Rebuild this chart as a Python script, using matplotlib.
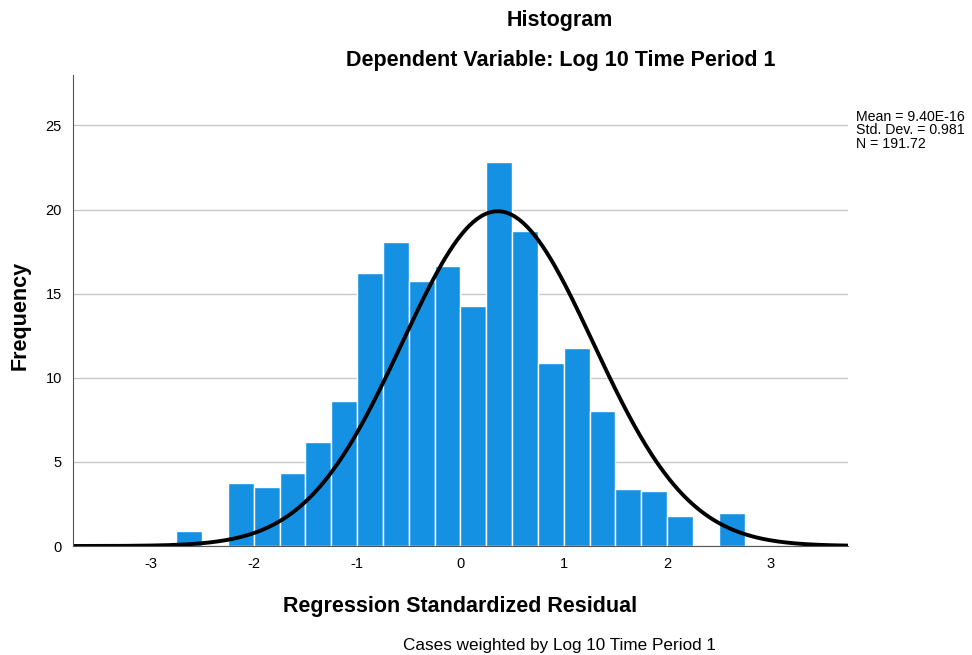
import numpy as np
import matplotlib.pyplot as plt

plt.rcParams['font.family'] = ['Liberation Sans', 'DejaVu Sans']
plt.rcParams['axes.unicode_minus'] = False

# bin left edges (width 0.25) and weighted frequencies
bin_left = [-2.75, -2.5, -2.25, -2.0, -1.75, -1.5, -1.25, -1.0, -0.75, -0.5, -0.25,
            0.0, 0.25, 0.5, 0.75, 1.0, 1.25, 1.5, 1.75, 2.0, 2.25, 2.5]
freq = [0.88, 0.0, 3.75, 3.51, 4.35, 6.2, 8.6, 16.2, 18.1, 15.75, 16.65,
        14.25, 22.8, 18.75, 10.9, 11.75, 8.0, 3.37, 3.28, 1.8, 0.0, 1.97]
bin_width = 0.25

# normal curve as drawn
curve_center = 0.36
curve_sd = 0.925
curve_peak = 19.9

fig = plt.figure(figsize=(9.72, 6.55), dpi=100)
ax = fig.add_axes([0.0751, 0.1664, 0.7973, 0.7191])

ax.bar(bin_left, freq, width=bin_width, align='edge', color='#1591e3',
       edgecolor='white', linewidth=1.0, zorder=2)

xs = np.linspace(-3.75, 3.75, 400)
ys = curve_peak * np.exp(-0.5 * ((xs - curve_center) / curve_sd) ** 2)
ax.plot(xs, ys, color='black', lw=2.8, zorder=3, solid_capstyle='round')

ax.set_xlim(-3.75, 3.75)
ax.set_ylim(0, 28)
ax.set_yticks([0, 5, 10, 15, 20, 25])
ax.set_xticks([-3, -2, -1, 0, 1, 2, 3])
ax.grid(axis='y', color='#c8c8c8', lw=1.0, zorder=0)
ax.tick_params(length=0, labelsize=10.5, pad=8)
for s in ['top', 'right']:
    ax.spines[s].set_visible(False)
for s in ['left', 'bottom']:
    ax.spines[s].set_color('#555555')
    ax.spines[s].set_zorder(4)

ax.set_xlabel('Regression Standardized Residual', fontsize=15.5, fontweight='bold', labelpad=18)
fig.text(0.021, 0.518, 'Frequency', rotation=90, ha='center', va='center',
         fontsize=15.5, fontweight='bold')

fig.text(0.576, 0.969, 'Histogram', ha='center', va='center', fontsize=15.5, fontweight='bold')
fig.text(0.577, 0.907, 'Dependent Variable: Log 10 Time Period 1', ha='center', va='center',
         fontsize=15.5, fontweight='bold')
fig.text(0.576, 0.015, 'Cases weighted by Log 10 Time Period 1', ha='center', va='center', fontsize=12.3)
fig.text(0.881, 0.832, 'Mean = 9.40E-16\nStd. Dev. = 0.981\nN = 191.72', ha='left', va='top',
         fontsize=10.2, linespacing=0.95)

fig.savefig('out.png', dpi=100)
